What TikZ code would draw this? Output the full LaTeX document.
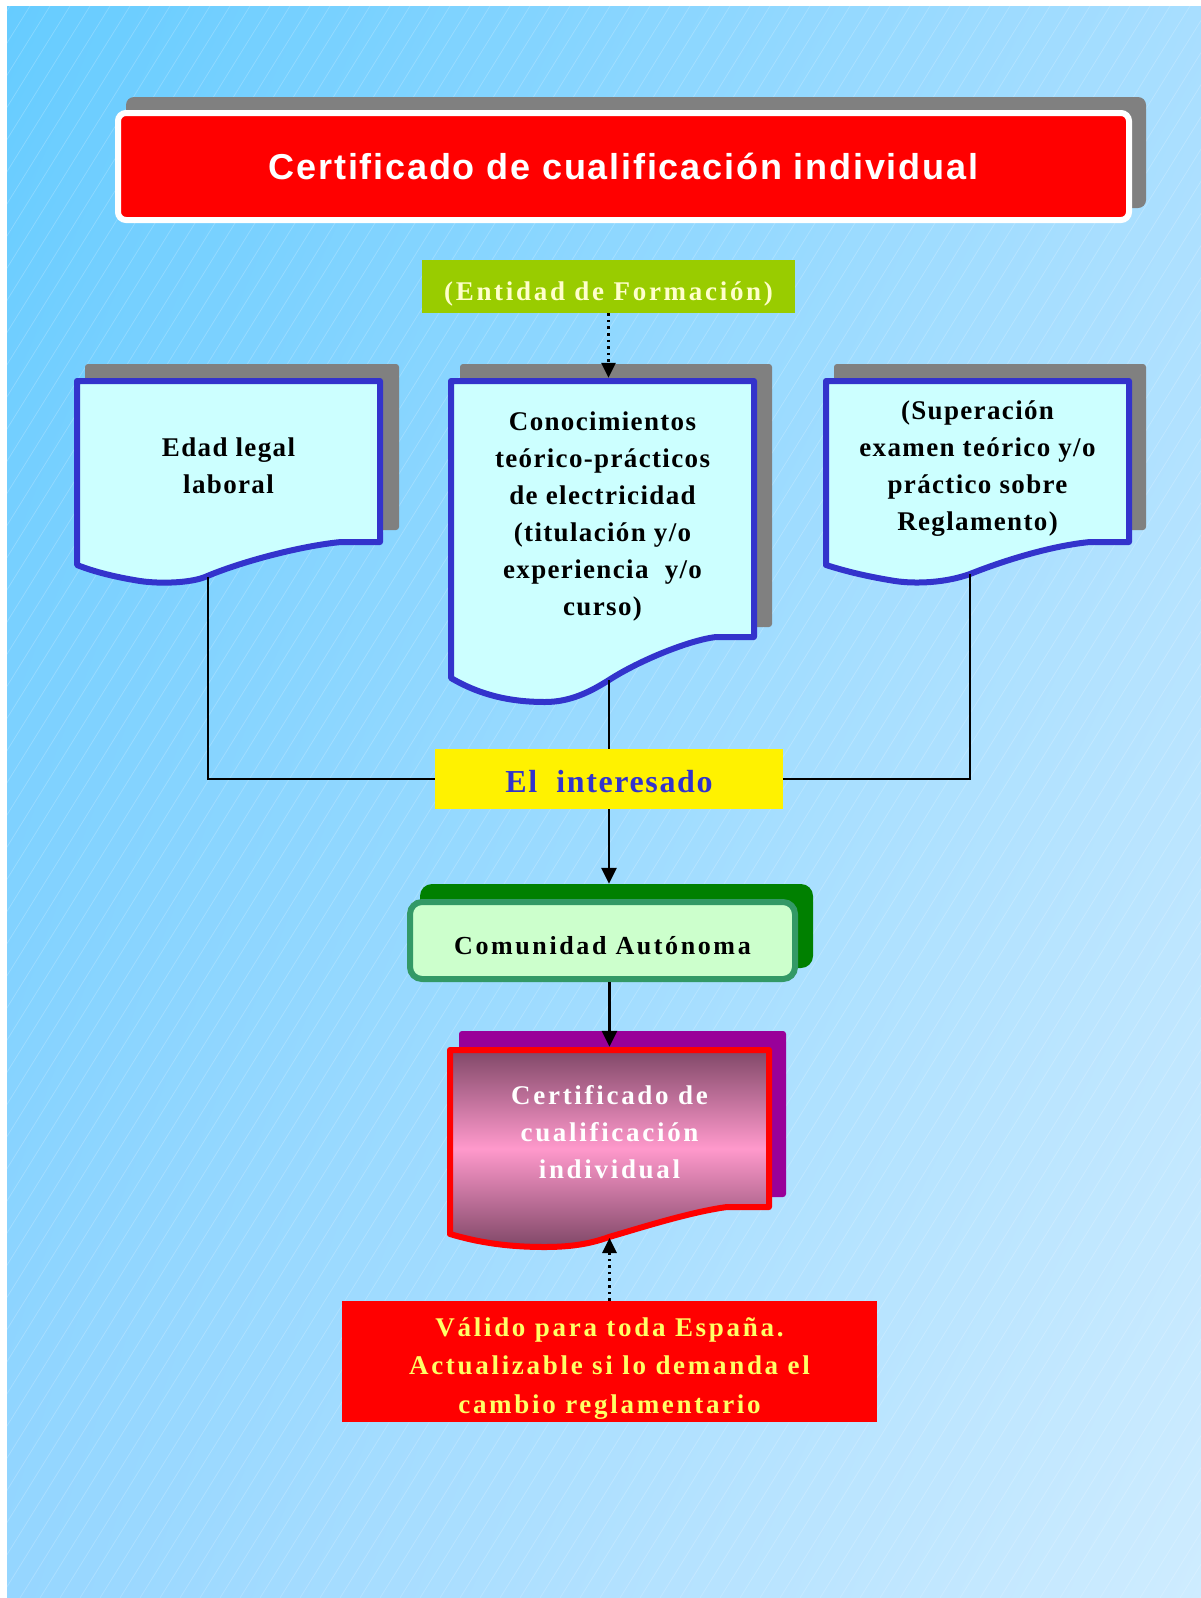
\documentclass[tikz,border=0pt]{standalone}
\usepackage{fontspec}
\setmainfont{Liberation Serif}
\newfontfamily\titlefont[LetterSpace=5]{Liberation Sans}
\newfontfamily\boxfont[LetterSpace=5]{Liberation Serif}
\newfontfamily\widefont[LetterSpace=10]{Liberation Serif}
\usepackage{tikz}
\usetikzlibrary{arrows.meta, positioning, shadings}
\usepackage{xcolor}

\definecolor{skyA}{RGB}{102,204,255}
\definecolor{skyB}{RGB}{168,222,255}
\definecolor{skyC}{RGB}{150,214,255}
\definecolor{skyD}{RGB}{206,236,255}
\definecolor{shadowgray}{RGB}{128,128,128}
\definecolor{titlered}{RGB}{255,0,0}
\definecolor{limegreen}{RGB}{153,204,0}
\definecolor{cream}{RGB}{255,255,204}
\definecolor{docblue}{RGB}{51,51,204}
\definecolor{docfill}{RGB}{204,255,255}
\definecolor{comfill}{RGB}{204,255,204}
\definecolor{comborder}{RGB}{51,153,102}
\definecolor{comshadow}{RGB}{0,128,0}
\definecolor{certpurple}{RGB}{153,0,153}
\definecolor{certdark}{RGB}{128,72,104}
\definecolor{certpink}{RGB}{255,153,204}
\definecolor{noteyellow}{RGB}{255,255,102}

\begin{document}
\begin{tikzpicture}[x=1pt, y=-1pt,
    doctext/.style={font=\boxfont\bfseries\fontsize{27}{37}\selectfont, align=center, inner sep=0pt},
    widetext/.style={font=\widefont\bfseries\fontsize{27}{37}\selectfont, align=center, inner sep=0pt},
    docline/.style={line width=6pt, draw=docblue, fill=docfill, line join=round},
    link/.style={line width=2.8pt},
    arr/.style={link, -{Triangle[length=16pt, width=15pt]}},
    dotarr/.style={link, dash pattern=on 2.6pt off 4pt, -{Triangle[length=15pt, width=14pt]}}]
    \useasboundingbox (0,0) rectangle (1201,1598);

    % Background with faint hatching
    \shade[upper left=skyA, upper right=skyB, lower left=skyC, lower right=skyD] (7,6) rectangle (1201,1598);
    \begin{scope}
        \clip (7,6) rectangle (1201,1598);
        \foreach \i in {-50,...,60}
            \draw[white, opacity=0.22, line width=0.7pt] (\i*20, 1598) -- (\i*20+990, 6);
    \end{scope}

    % Title plate
    \fill[shadowgray, rounded corners=8] (126,97) rectangle (1146,208);
    \node (title) [draw=white, line width=6pt, fill=titlered, rounded corners=8, minimum width=1011, minimum height=107,
        text=white, font=\titlefont\bfseries\fontsize{36}{40}\selectfont] at (623.5,166.5) {Certificado de cualificación individual};

    % Training body
    \node (entidad) [fill=limegreen, text=cream, minimum width=373, minimum height=53, widetext] at (608.5,286.5)
        {\rule{0pt}{34pt}(Entidad de Formación)};

    % Requirement documents (shadows first)
    \fill[shadowgray, rounded corners=3] (85,364) rectangle (399,530);
    \fill[shadowgray, rounded corners=3] (460,364) rectangle (772,627);
    \fill[shadowgray, rounded corners=3] (834,364) rectangle (1146,530);

    \draw[docline] (77,381) -- (380,381) -- (380,542) -- (341,542) .. controls (300,546) and (240,562) .. (205,577)
        .. controls (190,583) and (160,584) .. (140,581) .. controls (115,577) and (95,572) .. (77,565) -- cycle;
    \draw[docline] (451,381) -- (754,381) -- (754,637) -- (716,637) .. controls (690,640) and (640,660) .. (609,680)
        .. controls (590,692) and (570,702) .. (545,702) .. controls (510,702) and (480,695) .. (451,678) -- cycle;
    \draw[docline] (826,381) -- (1129,381) -- (1129,542) -- (1090,542) .. controls (1049,546) and (1000,562) .. (970,574)
        .. controls (945,583) and (915,584) .. (895,581) .. controls (870,577) and (848,572) .. (826,565) -- cycle;

    \node (edad) [doctext, minimum width=309, minimum height=176] at (228.5,466) {Edad legal\\laboral};
    \node (conoc) [doctext, minimum width=309, minimum height=276] at (602.5,516)
        {Conocimientos\\teórico-prácticos\\de electricidad\\(titulación y/o\\experiencia~ y/o\\curso)};
    \node (superacion) [doctext, minimum width=309, minimum height=179] at (977.5,469)
        {(Superación\\examen teórico y/o\\práctico sobre\\Reglamento)};

    \coordinate (edadfoot) at (208,577);
    \coordinate (conocfoot) at (609,680);
    \coordinate (superfoot) at (970,574);

    % The applicant
    \node (interesado) [fill=yellow, text=docblue, minimum width=348, minimum height=60, inner sep=0pt,
        font=\boxfont\bfseries\fontsize{32}{36}\selectfont] at (609,779) {\rule{0pt}{28pt}El~ interesado};

    % Regional authority
    \node (comunidadback) [fill=comshadow, rounded corners=12, minimum width=393, minimum height=84, inner sep=0pt] at (616.5,926) {};
    \node (comunidad) [draw=comborder, line width=6pt, fill=comfill, rounded corners=12, minimum width=385, minimum height=77,
        widetext, font=\widefont\bfseries\fontsize{26}{30}\selectfont] at (602.5,940.5) {\rule{0pt}{29pt}Comunidad Autónoma};

    % Resulting certificate
    \fill[certpurple, rounded corners=3] (459,1031) rectangle (786,1197);
    \draw[draw=red, line width=6pt, line join=round, top color=certdark, bottom color=certdark, middle color=certpink]
        (450,1050) -- (769,1050) -- (769,1207) -- (727,1207) .. controls (690,1212) and (640,1228) .. (609,1237)
        .. controls (590,1244) and (570,1247) .. (545,1247) .. controls (510,1247) and (480,1243) .. (450,1234) -- cycle;
    \node (cert) [widetext, text=white, minimum width=319, minimum height=171] at (609.5,1132.5)
        {Certificado de\\cualificación\\individual};
    \coordinate (certfoot) at (609.5,1238);

    % Validity note
    \node (valido) [fill=red, text=noteyellow, minimum width=535, minimum height=121, widetext,
        font=\widefont\bfseries\fontsize{27}{38.5}\selectfont] at (609.5,1361.5)
        {\rule{0pt}{32pt}Válido para toda España.\\Actualizable si lo demanda el\\cambio reglamentario};

    % Connectors
    \draw[dotarr] (entidad.south) -- (entidad.south |- conoc.north);
    \draw[link] (edadfoot) |- (interesado.west);
    \draw[link] (superfoot) |- (interesado.east);
    \draw[link] (conocfoot) -- (interesado.north);
    \draw[arr] (interesado.south) -- (interesado.south |- comunidadback.north);
    \draw[arr] (cert.north |- comunidad.south) -- (cert.north);
    \draw[dotarr] (valido.north) -- (certfoot);
\end{tikzpicture}
\end{document}
